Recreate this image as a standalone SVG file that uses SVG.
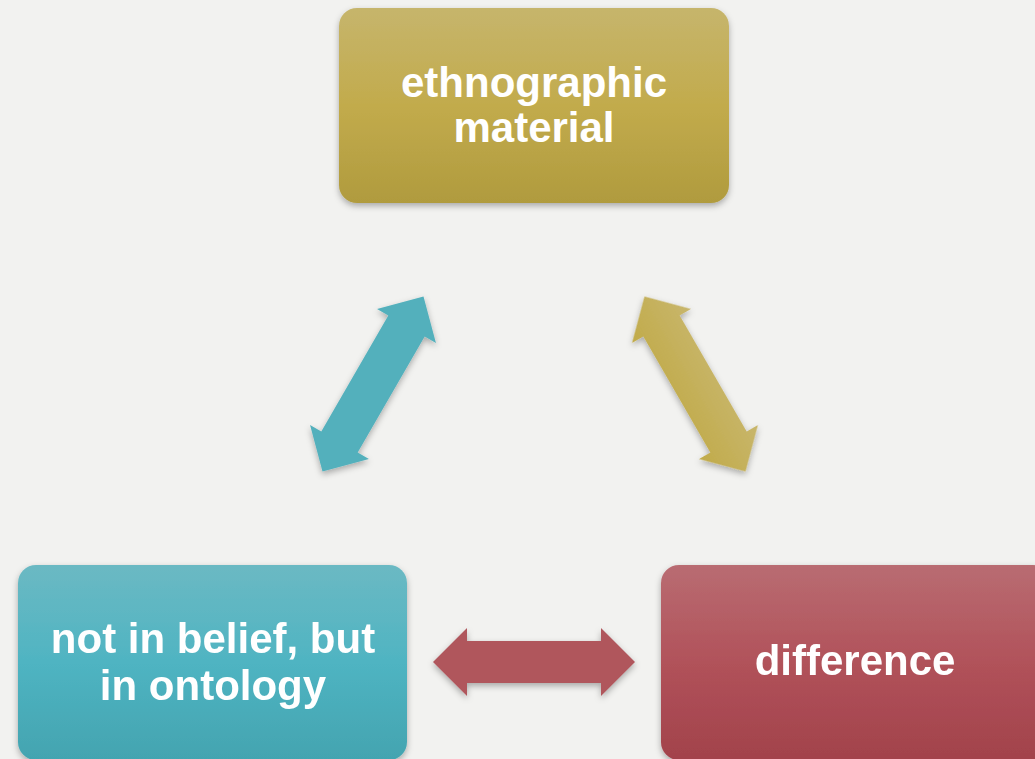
<svg xmlns="http://www.w3.org/2000/svg" width="1035" height="759" viewBox="0 0 1035 759">
  <defs>
    <linearGradient id="gGold" x1="0" y1="0" x2="0" y2="1">
      <stop offset="0" stop-color="#c6b56c"/>
      <stop offset="0.5" stop-color="#c2ab4c"/>
      <stop offset="1" stop-color="#b09b3e"/>
    </linearGradient>
    <linearGradient id="gTeal" x1="0" y1="0" x2="0" y2="1">
      <stop offset="0" stop-color="#6bb9c3"/>
      <stop offset="0.5" stop-color="#4fb4c2"/>
      <stop offset="1" stop-color="#43a4b0"/>
    </linearGradient>
    <linearGradient id="gRed" x1="0" y1="0" x2="0" y2="1">
      <stop offset="0" stop-color="#b96c72"/>
      <stop offset="0.5" stop-color="#b1525a"/>
      <stop offset="1" stop-color="#a2424b"/>
    </linearGradient>
    <!-- gold arrow: slightly lighter along its outer (upper) edge -->
    <linearGradient id="gGoldArrow" x1="0" y1="0" x2="0" y2="1">
      <stop offset="0" stop-color="#c8b66c"/>
      <stop offset="1" stop-color="#c1ab4a"/>
    </linearGradient>
    <filter id="shadow" x="-20%" y="-20%" width="140%" height="140%">
      <feDropShadow dx="0" dy="3" stdDeviation="3" flood-color="#000" flood-opacity="0.3"/>
    </filter>
    <path id="dblArrow" d="M-101,0 L-67,-34 L-67,-21 L67,-21 L67,-34 L101,0 L67,34 L67,21 L-67,21 L-67,34 Z"/>
  </defs>
  <style>
    .box { filter: url(#shadow); }
    .label { font-family: "Liberation Sans", Arial, sans-serif; font-weight: bold; font-size: 42px; fill: #ffffff; text-anchor: middle; }
  </style>

  <rect width="1035" height="759" fill="#f2f2f0"/>

  <!-- connectors -->
  <g id="connectors" filter="url(#shadow)">
    <use href="#dblArrow" transform="translate(373,384) rotate(-60)" fill="#52b0bc"/>
    <use href="#dblArrow" transform="translate(695,384) rotate(60)" fill="url(#gGoldArrow)"/>
    <use href="#dblArrow" transform="translate(534,662)" fill="#b0565c"/>
  </g>

  <g id="node-ethnographic">
    <rect class="box" x="339" y="8" width="390" height="195" rx="18" fill="url(#gGold)"/>
    <text class="label" x="534" y="97">ethnographic</text>
    <text class="label" x="534" y="142">material</text>
  </g>

  <g id="node-ontology">
    <rect class="box" x="18" y="565" width="389" height="195" rx="18" fill="url(#gTeal)"/>
    <text class="label" x="213" y="653">not in belief, but</text>
    <text class="label" x="213" y="700">in ontology</text>
  </g>

  <g id="node-difference">
    <rect class="box" x="661" y="565" width="390" height="195" rx="18" fill="url(#gRed)"/>
    <text class="label" x="855" y="675">difference</text>
  </g>
</svg>
